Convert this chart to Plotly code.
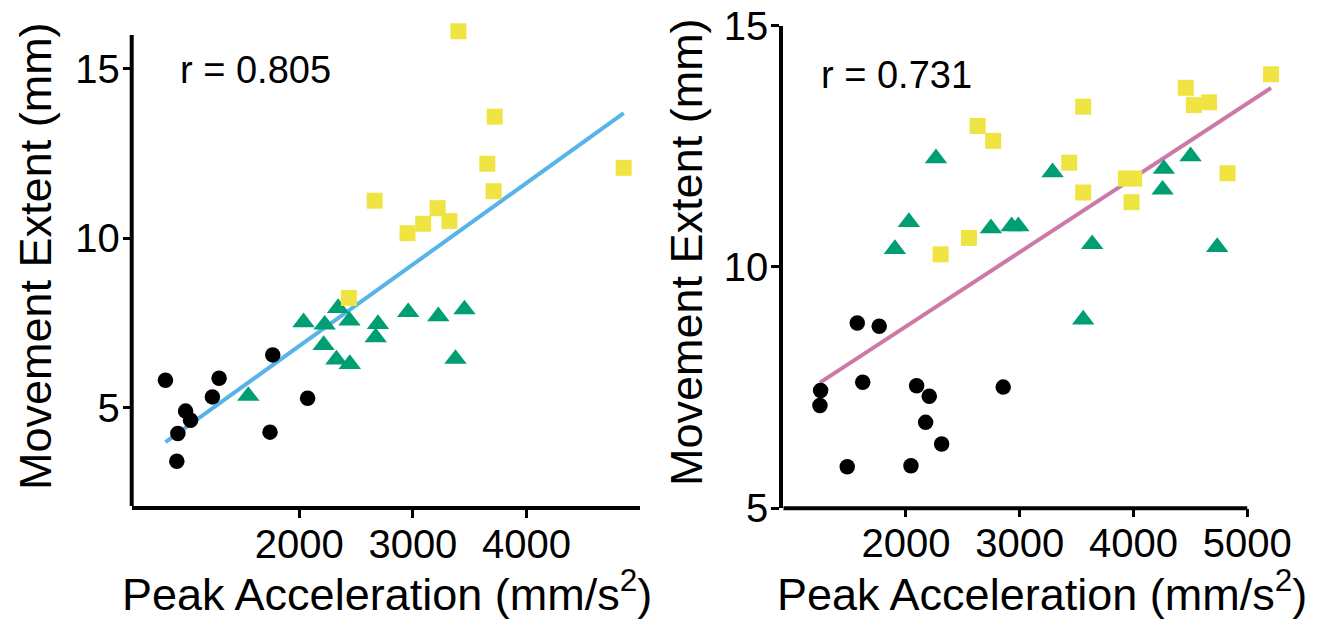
import numpy as np
import plotly.graph_objects as go

# ---------------- Data ----------------
# Left panel
L_black_x = [823, 1295, 1236, 1000, 1044, 932, 923, 1767, 1743, 2074]
L_black_y = [5.81, 5.87, 5.32, 4.90, 4.63, 4.24, 3.42, 6.56, 4.28, 5.28]
L_green_x = [1552, 2038, 2224, 2342, 2442, 2215, 2327, 2445, 2693, 2673, 2959, 3224, 3454, 3375]
L_green_y = [5.35, 7.52, 7.45, 7.94, 7.57, 6.85, 6.42, 6.29, 7.47, 7.08, 7.82, 7.70, 7.90, 6.44]
L_yellow_x = [3401, 3720, 3655, 3711, 4855, 2664, 3218, 3091, 2953, 3322, 2437]
L_yellow_y = [16.11, 13.59, 12.20, 11.39, 12.08, 11.11, 10.89, 10.43, 10.15, 10.51, 8.24]
L_r_text = "r = 0.805"

# Right panel
R_black_x = [1572, 1765, 1250, 1244, 1620, 2094, 2205, 2173, 2314, 1484, 2044, 2855]
R_black_y = [8.84, 8.77, 7.44, 7.13, 7.61, 7.54, 7.32, 6.78, 6.33, 5.86, 5.88, 7.51]
R_green_x = [2264, 2026, 1903, 2747, 2929, 2988, 3289, 3637, 4267, 4256, 4502, 4736, 3558]
R_green_y = [12.25, 10.93, 10.37, 10.80, 10.84, 10.84, 11.96, 10.47, 12.03, 11.60, 12.29, 10.41, 8.91]
R_yellow_x = [5209, 4460, 4531, 4665, 3558, 2630, 2767, 3435, 4827, 3933, 4006, 3558, 3983, 2554, 2305]
R_yellow_y = [13.99, 13.71, 13.35, 13.41, 13.32, 12.92, 12.61, 12.16, 11.94, 11.83, 11.83, 11.54, 11.34, 10.60, 10.26]
R_r_text = "r = 0.731"

x_ticks_L = [2000, 3000, 4000]
x_ticks_R = [2000, 3000, 4000, 5000]
y_ticks = [5, 10, 15]

x_title = "Peak Acceleration (mm/s<sup>2</sup>)"
y_title = "Movement Extent (mm)"

# ---------------- Styles ----------------
BLACK = "#000000"
GREEN = "#009E73"
YELLOW = "#F0E442"
BLUE = "#56B4E9"
PINK = "#CC79A7"
FONT = "Liberation Sans, Arial, Helvetica, sans-serif"
TICK_FS = 40
R_FS = 38
TITLE_FS = 45
W, H = 1319, 621

# axis geometry (pixels in the 1319x621 page)
L_X0_PX, L_X1_PX = 131.7, 639.6          # left plot x extent
L_XMIN, L_XMAX = 526, 4995
L_YBOT_PX, L_YTOP_PX = 506, 35           # left axis line extent
L_YMIN, L_YMAX = 2.1, 16.0
L_YMAX_VIEW = 16.5                        # extra room so the top square shows
R_X0_PX = 783.3
R_XMIN, R_XMAX_LINE, R_XMAX_VIEW = 922, 5000, 5260
R_PX_PER_UNIT_X = (1247.3 - 906) / 3000
R_YBOT_PX, R_YTOP_PX = 508.3, 25.5
R_YMIN, R_YMAX = 5, 15

L_py_per_unit = (L_YBOT_PX - L_YTOP_PX) / (L_YMAX - L_YMIN)
L_top_view_px = L_YTOP_PX - (L_YMAX_VIEW - L_YMAX) * L_py_per_unit
R_x1_view_px = R_X0_PX + (R_XMAX_VIEW - R_XMIN) * R_PX_PER_UNIT_X


def fit_line(xs, ys):
    xs = np.asarray(xs, float)
    ys = np.asarray(ys, float)
    m, b = np.polyfit(xs, ys, 1)
    xx = np.array([xs.min(), xs.max()])
    return xx, m * xx + b


fig = go.Figure()

L_all_x = L_black_x + L_green_x + L_yellow_x
L_all_y = L_black_y + L_green_y + L_yellow_y
R_all_x = R_black_x + R_green_x + R_yellow_x
R_all_y = R_black_y + R_green_y + R_yellow_y

lx, ly = fit_line(L_all_x, L_all_y)
rx, ry = fit_line(R_all_x, R_all_y)

fig.add_trace(go.Scatter(x=lx, y=ly, mode="lines", line=dict(color=BLUE, width=4),
                         xaxis="x", yaxis="y", showlegend=False, hoverinfo="skip"))
fig.add_trace(go.Scatter(x=rx, y=ry, mode="lines", line=dict(color=PINK, width=4),
                         xaxis="x2", yaxis="y2", showlegend=False, hoverinfo="skip"))


def add_points(xs, ys, color, symbol, size, xa, ya):
    fig.add_trace(go.Scatter(x=xs, y=ys, mode="markers", cliponaxis=False,
                             marker=dict(color=color, symbol=symbol, size=size,
                                         line=dict(width=0)),
                             xaxis=xa, yaxis=ya, showlegend=False))


add_points(L_black_x, L_black_y, BLACK, "circle", 15.5, "x", "y")
add_points(L_green_x, L_green_y, GREEN, "triangle-up", 19.5, "x", "y")
add_points(L_yellow_x, L_yellow_y, YELLOW, "square", 16, "x", "y")
add_points(R_black_x, R_black_y, BLACK, "circle", 15.5, "x2", "y2")
add_points(R_green_x, R_green_y, GREEN, "triangle-up", 19.5, "x2", "y2")
add_points(R_yellow_x, R_yellow_y, YELLOW, "square", 16, "x2", "y2")

axis_common = dict(showgrid=False, zeroline=False, ticks="outside", ticklen=8, tickwidth=3,
                   tickcolor="black", linecolor="black", linewidth=4, automargin=False,
                   tickfont=dict(family=FONT, size=TICK_FS, color="black"))
x_std = dict(ticklabelstandoff=-8)
y_std = dict(ticklabelstandoff=-5)

fig.update_layout(
    width=W, height=H, margin=dict(l=0, r=0, t=0, b=0, autoexpand=False),
    paper_bgcolor="white", plot_bgcolor="white",
    xaxis=dict(domain=[L_X0_PX / W, L_X1_PX / W], range=[L_XMIN, L_XMAX], tickvals=x_ticks_L,
               showline=True, anchor="y", **x_std, **axis_common),
    yaxis=dict(domain=[1 - L_YBOT_PX / H, 1 - L_top_view_px / H], range=[L_YMIN, L_YMAX_VIEW],
               tickvals=y_ticks, showline=False, anchor="x", **y_std, **axis_common),
    xaxis2=dict(domain=[R_X0_PX / W, R_x1_view_px / W], range=[R_XMIN, R_XMAX_VIEW],
                tickvals=x_ticks_R, showline=False, anchor="y2", **x_std, **axis_common),
    yaxis2=dict(domain=[1 - R_YBOT_PX / H, 1 - R_YTOP_PX / H], range=[R_YMIN, R_YMAX],
                tickvals=y_ticks, showline=True, anchor="x2", **y_std, **axis_common),
    font=dict(family=FONT, color="black"),
    showlegend=False,
)

# axis lines that stop short of the plotting area (like the reference)
fig.add_shape(type="line", xref="x domain", yref="y", x0=0, x1=0, y0=L_YMIN, y1=L_YMAX,
              line=dict(color="black", width=4), layer="below")
fig.add_shape(type="line", xref="x2", yref="y2 domain", x0=R_XMIN, x1=R_XMAX_LINE, y0=0, y1=0,
              line=dict(color="black", width=4), layer="below")

ann = []
ann.append(dict(text=L_r_text, x=178 / W, y=1 - 70 / H, xref="paper", yref="paper",
                xanchor="left", yanchor="middle", showarrow=False,
                font=dict(family=FONT, size=R_FS, color="black")))
ann.append(dict(text=R_r_text, x=819 / W, y=1 - 75 / H, xref="paper", yref="paper",
                xanchor="left", yanchor="middle", showarrow=False,
                font=dict(family=FONT, size=R_FS, color="black")))
for cx in (387, 1042):
    ann.append(dict(text=x_title, x=cx / W, y=1 - 591 / H, xref="paper", yref="paper",
                    xanchor="center", yanchor="middle", showarrow=False,
                    font=dict(family=FONT, size=TITLE_FS, color="black")))
for cx, cy in ((35, 256), (686, 252)):
    ann.append(dict(text=y_title, x=cx / W, y=1 - cy / H, xref="paper", yref="paper",
                    xanchor="center", yanchor="middle", showarrow=False, textangle=-90,
                    font=dict(family=FONT, size=TITLE_FS, color="black")))
fig.update_layout(annotations=ann)

fig.write_html("out.html")
